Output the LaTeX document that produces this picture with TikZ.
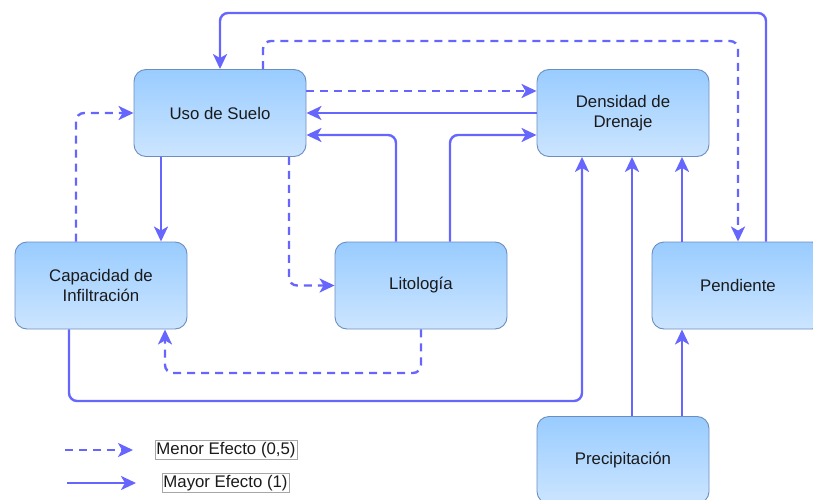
\documentclass[tikz,border=0pt]{standalone}
\usepackage{fontspec}
\setmainfont{Liberation Sans}
\usetikzlibrary{arrows.meta}
\definecolor{arrowc}{HTML}{6666FF}
\definecolor{boxtop}{HTML}{99CCFF}
\definecolor{boxbot}{HTML}{CCE5FF}
\definecolor{boxline}{HTML}{6C8EBF}
\definecolor{txt}{HTML}{1A1A1A}
\tikzset{
  box/.style={rectangle, rounded corners=12pt, draw=boxline, line width=0.9pt,
    top color=boxtop, bottom color=boxbot, minimum width=172pt, minimum height=87pt,
    align=center, text=txt, font=\fontsize{16.8}{20}\selectfont, inner sep=0pt},
  main/.style={draw=arrowc, line width=2.4pt, rounded corners=8pt,
    -{Stealth[length=15pt,width=14pt,inset=4pt]}},
  minor/.style={main, dash pattern=on 8pt off 6pt},
  legendlabel/.style={draw=gray!70, line width=0.5pt, inner sep=1.5pt, text=txt,
    font=\fontsize{16.8}{20}\selectfont}
}
\begin{document}
\begin{tikzpicture}[x=1pt,y=-1pt]
\useasboundingbox (0,0) rectangle (813,500);
\clip (0,0) rectangle (813,500);
\node[box] (uso) at (220,113) {Uso de Suelo};
\node[box] (dens) at (623,113) {Densidad de\\Drenaje};
\node[box] (cap) at (101,285.5) {Capacidad de\\Infiltración};
\node[box] (lito) at (421,285.5) {Litología};
\node[box] (pend) at (738,285.5) {Pendiente};
\node[box] (prec) at (623,460) {Precipitación};

% connectors
\draw[main] ([xshift=28pt]pend.north) -- (766,13) -- (220,13) -- (uso.north);
\draw[minor] ([xshift=43pt]uso.north) -- (263,41) -- (738,41) -- (pend.north);
\draw[minor] ([yshift=22pt]uso.east) -- ([yshift=22pt]dens.west);
\draw[main] (dens.west) -- (uso.east);
\draw[main] ([xshift=-25pt]lito.north) -- (396,135) -- ([yshift=-22pt]uso.east);
\draw[main] ([xshift=29pt]lito.north) -- (450,135) -- ([yshift=-22pt]dens.west);
\draw[main] ([xshift=-59pt]uso.south) -- ([xshift=60pt]cap.north);
\draw[minor] ([xshift=-25pt]cap.north) -- (76,113) -- (uso.west);
\draw[minor] ([xshift=69pt]uso.south) -- (289,285.5) -- (lito.west);
\draw[minor] (lito.south) -- (421,373) -- (165,373) -- ([xshift=64pt]cap.south);
\draw[main] ([xshift=-32pt]cap.south) -- (69,401) -- (582,401) -- ([xshift=-41pt]dens.south);
\draw[main] ([xshift=9pt]prec.north) -- ([xshift=9pt]dens.south);
\draw[main] ([xshift=59pt]prec.north) -- ([xshift=-56pt]pend.south);
\draw[main] ([xshift=-56pt]pend.north) -- ([xshift=59pt]dens.south);

% legend
\coordinate (l1a) at (65,450);
\coordinate (l1b) at (133,450);
\coordinate (l2a) at (67,483);
\coordinate (l2b) at (136,483);
\draw[minor] (l1a) -- (l1b);
\draw[main] (l2a) -- (l2b);
\node[legendlabel] (lab1) at (226,450) {Menor Efecto (0,5)};
\node[legendlabel] (lab2) at (225.5,483) {Mayor Efecto (1)};
\end{tikzpicture}
\end{document}
